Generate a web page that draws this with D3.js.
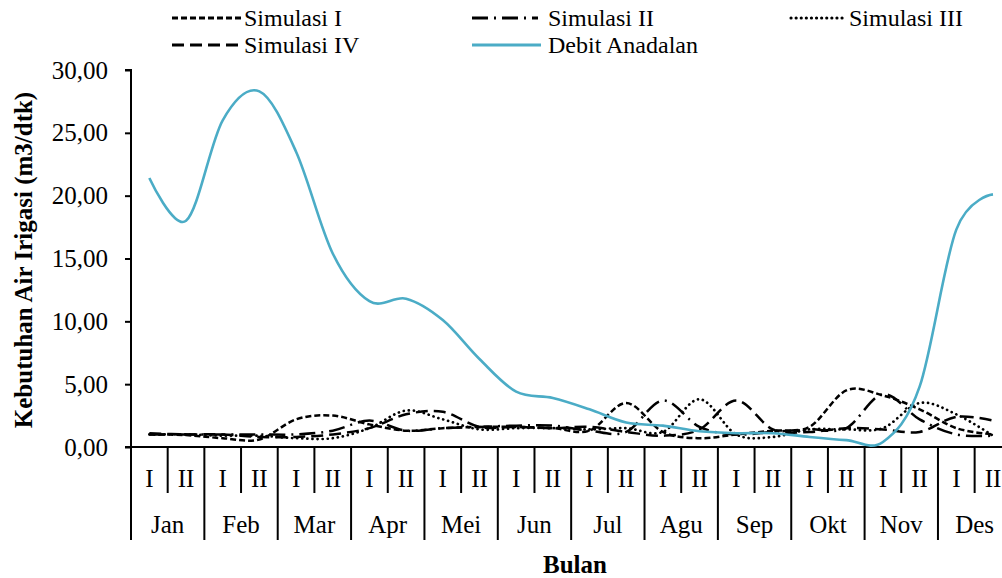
<!DOCTYPE html>
<html>
<head>
<meta charset="utf-8">
<script src="https://cdn.jsdelivr.net/npm/d3@7"></script>
<style>
  html, body { margin: 0; padding: 0; background: #fff; }
  svg { display: block; }
  text { font-family: "Liberation Serif", "Times New Roman", serif; }
</style>
</head>
<body>
<svg id="chart" width="1002" height="578"></svg>
<script>
// ---- data ----
const months = ["Jan","Feb","Mar","Apr","Mei","Jun","Jul","Agu","Sep","Okt","Nov","Des"];
const halves = ["I","II"];
const categories = months.flatMap(m => halves.map(h => m + " " + h));
const yTicks = [0, 5, 10, 15, 20, 25, 30];

const simulasi1 = [1.0, 0.95, 0.7, 0.6, 2.2, 2.5, 1.8, 1.3, 1.5, 1.6, 1.6, 1.5, 1.3, 3.5, 1.2, 0.7, 1.0, 1.3, 1.6, 4.5, 4.1, 3.0, 1.5, 1.0];
const simulasi2 = [1.0, 1.0, 1.0, 1.0, 1.0, 1.3, 2.1, 1.3, 1.5, 1.6, 1.7, 1.7, 1.3, 1.2, 3.7, 1.6, 1.0, 1.2, 1.4, 1.5, 4.2, 2.2, 1.0, 0.9];
const simulasi3 = [1.0, 1.0, 0.9, 0.9, 0.7, 0.7, 1.5, 2.9, 2.2, 1.4, 1.5, 1.5, 1.4, 1.5, 1.2, 3.8, 1.0, 0.8, 1.4, 1.4, 1.5, 3.5, 2.6, 0.9];
const simulasi4 = [1.1, 1.0, 1.0, 0.8, 0.8, 1.0, 1.5, 2.6, 2.8, 1.6, 1.6, 1.5, 1.6, 1.2, 0.9, 1.4, 3.7, 1.4, 1.2, 1.5, 1.4, 1.2, 2.4, 2.1];
const debitAndalan = [21.4, 18.0, 26.0, 28.3, 23.5, 15.4, 11.6, 11.8, 10.1, 7.0, 4.4, 3.9, 3.0, 1.95, 1.7, 1.25, 1.1, 1.1, 0.8, 0.55, 0.4, 4.8, 17.3, 20.1];

const seriesNames = ["Simulasi I", "Simulasi II", "Simulasi III", "Simulasi IV", "Debit Anadalan"];

// ---- styles ----
const FONT = "Liberation Serif, Times New Roman, serif";
const seriesStyle = [
  { color: "#000", width: 2.5, dash: "6,3", cap: "butt" },
  { color: "#000", width: 2.5, dash: "16,6,2,6", cap: "butt" },
  { color: "#000", width: 2.7, dash: "0.1,5", cap: "round" },
  { color: "#000", width: 2.5, dash: "12,6", cap: "butt" },
  { color: "#4BACC6", width: 2.6, dash: null, cap: "butt" }
];
const seriesData = [simulasi1, simulasi2, simulasi3, simulasi4, debitAndalan];

// ---- layout ----
const svg = d3.select("#chart");
const plotLeft = 131, plotBottom = 447, plotTop = 70;
const band = 36.68;
const x = d3.scaleBand().domain(categories).range([plotLeft, plotLeft + band * categories.length]).paddingInner(0).paddingOuter(0);
const y = d3.scaleLinear().domain([0, 30]).range([plotBottom, plotTop]);

// y axis
const yAxis = d3.axisLeft(y).tickValues(yTicks).tickSize(6).tickPadding(17)
  .tickFormat(d => d3.format(".2f")(d).replace(".", ","));
const gy = svg.append("g").attr("transform", `translate(${plotLeft},0)`).call(yAxis)
  .attr("font-family", FONT).attr("font-size", 25);
gy.select(".domain").attr("stroke", "#000").attr("stroke-width", 2).attr("d", `M-6,${y(30)}H0V${y(0)}`);
gy.selectAll(".tick line").attr("stroke", "#000").attr("stroke-width", 2);
gy.selectAll(".tick text").attr("fill", "#000");

// x axis line
svg.append("line").attr("x1", plotLeft - 6).attr("x2", 1002).attr("y1", plotBottom).attr("y2", plotBottom)
  .attr("stroke", "#000").attr("stroke-width", 2);

// category tick lines
const boundaries = categories.map((c, i) => ({ x: x(c), major: i % 2 === 0 }));
svg.append("g").selectAll("line").data(boundaries).join("line")
  .attr("x1", d => d.x).attr("x2", d => d.x)
  .attr("y1", plotBottom).attr("y2", d => d.major ? 540 : 493)
  .attr("stroke", "#000").attr("stroke-width", 2);

// half labels
svg.append("g").selectAll("text").data(categories).join("text")
  .attr("x", d => x(d) + x.bandwidth() / 2).attr("y", 487)
  .attr("text-anchor", "middle").attr("font-size", 25).attr("font-family", FONT).attr("fill", "#000")
  .text((d, i) => halves[i % 2]);

// month labels
svg.append("g").selectAll("text").data(months).join("text")
  .attr("x", (d, i) => x(categories[i * 2]) + x.bandwidth())
  .attr("y", 533).attr("text-anchor", "middle").attr("font-size", 25).attr("font-family", FONT).attr("fill", "#000")
  .text(d => d);

// lines
const line = d3.line()
  .x((d, i) => x(categories[i]) + x.bandwidth() / 2)
  .y(d => y(d))
  .curve(d3.curveCatmullRom.alpha(0));

const gLines = svg.append("g");
seriesData.forEach((data, k) => {
  const s = seriesStyle[k];
  gLines.append("path").datum(data)
    .attr("d", line)
    .attr("fill", "none")
    .attr("stroke", s.color)
    .attr("stroke-width", s.width)
    .attr("stroke-linecap", s.cap)
    .attr("stroke-dasharray", s.dash);
});

// axis titles
svg.append("text").attr("transform", "translate(32,260) rotate(-90)")
  .attr("text-anchor", "middle").attr("font-size", 25).attr("font-weight", "bold").attr("font-family", FONT).attr("fill", "#000")
  .text("Kebutuhan Air Irigasi (m3/dtk)");
svg.append("text").attr("x", 575).attr("y", 573)
  .attr("text-anchor", "middle").attr("font-size", 25).attr("font-weight", "bold").attr("font-family", FONT).attr("fill", "#000")
  .text("Bulan");

// legend
const legendPos = [
  { x1: 172, x2: 241, tx: 244, y: 18 },
  { x1: 472, x2: 538, tx: 548, y: 18 },
  { x1: 791, x2: 847, tx: 849, y: 18 },
  { x1: 172, x2: 241, tx: 244, y: 45 },
  { x1: 472, x2: 541, tx: 548, y: 45 }
];
const gLeg = svg.append("g");
seriesNames.forEach((name, k) => {
  const p = legendPos[k], s = seriesStyle[k];
  gLeg.append("line").attr("x1", p.x1).attr("x2", p.x2).attr("y1", p.y).attr("y2", p.y)
    .attr("stroke", s.color).attr("stroke-width", s.width + 0.4)
    .attr("stroke-linecap", s.cap).attr("stroke-dasharray", s.dash);
  gLeg.append("text").attr("x", p.tx).attr("y", p.y + 8).attr("font-size", 24).attr("font-family", FONT).attr("fill", "#000")
    .text(name);
});
</script>
</body>
</html>
